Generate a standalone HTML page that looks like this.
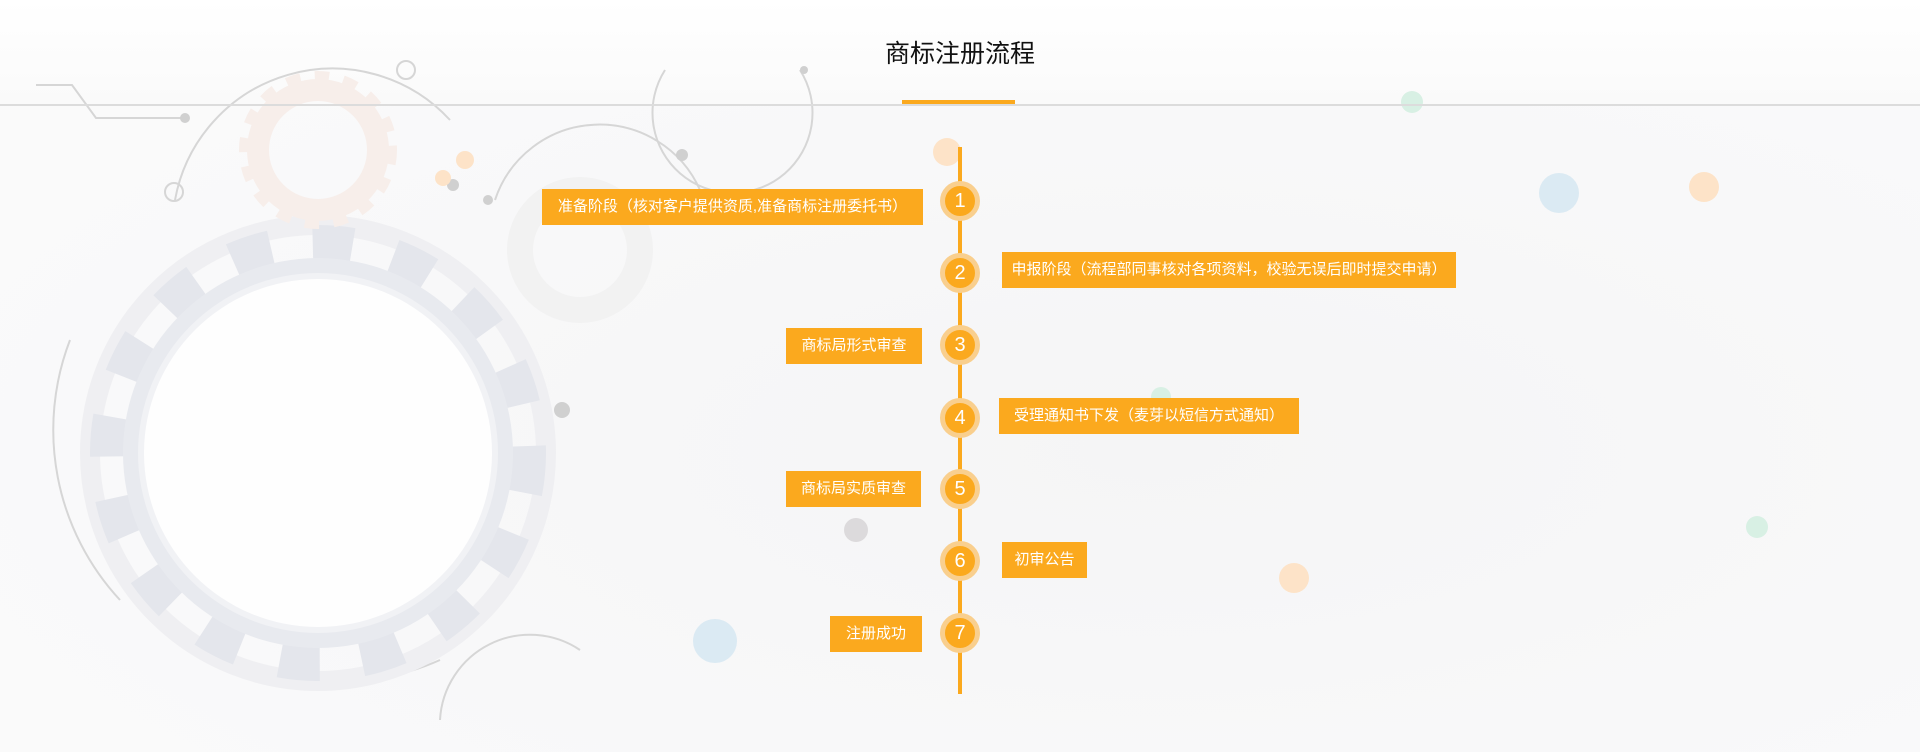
<!DOCTYPE html>
<html><head><meta charset="utf-8"><style>
html,body{margin:0;padding:0}
body{width:1920px;height:752px;position:relative;overflow:hidden;background:radial-gradient(ellipse at 60% 60%,#f5f5f6 0%,#f8f8f9 50%,#fbfbfb 100%);font-family:"Liberation Sans","Noto Sans CJK SC",sans-serif}
.top{position:absolute;left:0;top:0;width:1920px;height:105px;background:linear-gradient(#fff,#fafafa)}
.hl{position:absolute;left:0;top:104px;width:1920px;height:2px;background:#dcdcdc}
.ul{position:absolute;left:902px;top:100px;width:113px;height:4px;background:#fba91e}
.title{position:absolute;left:0;width:1920px;top:34px;text-align:center;font-size:25px;color:#111}
.vl{position:absolute;left:958px;top:147px;width:4px;height:547px;background:#fba91e}
.c{position:absolute;width:30px;height:30px;border-radius:50%;background:#fba91e;border:5px solid #f9cf8e;color:#fff;font-size:20px;line-height:30px;text-align:center;left:940px}
.b{position:absolute;background:#fba91e;color:#fff;font-size:15px;height:36px;line-height:36px;text-align:center;white-space:nowrap}
</style></head><body>
<div class="top"></div>
<svg style="position:absolute;left:0;top:0" width="1920" height="752">
 <g fill="none" stroke="#d6d6d6" stroke-width="2">
  <path d="M175 200 A160 160 0 0 1 450 120"/>
  <circle cx="174" cy="192" r="9"/><circle cx="406" cy="70" r="9"/>
  <path d="M36 85 L72 85 L96 118 L185 118"/>
  <path d="M495 200 A110 110 0 0 1 700 190"/>
  <path d="M665 70 A80 80 0 1 0 800 70"/>
  <path d="M70 340 A250 250 0 0 0 120 600" />
  <path d="M200 640 A250 250 0 0 0 440 660"/>
  <path d="M440 720 A90 90 0 0 1 580 650"/>
 </g>
 <g fill="#d0d0d0"><circle cx="185" cy="118" r="5"/><circle cx="453" cy="185" r="6"/><circle cx="488" cy="200" r="5"/><circle cx="682" cy="155" r="6"/><circle cx="125" cy="330" r="6"/><circle cx="562" cy="410" r="8"/><circle cx="804" cy="70" r="4"/></g>
 <circle cx="318" cy="453" r="228" fill="none" stroke="#efeff2" stroke-width="20"/>
 <circle cx="318" cy="453" r="210" fill="none" stroke="#e4e6ec" stroke-width="36" stroke-dasharray="40 42"/>
 <circle cx="318" cy="453" r="195" fill="#e8eaef"/>
 <circle cx="318" cy="453" r="180" fill="#f1f2f5"/>
 <circle cx="318" cy="453" r="174" fill="#fefefe"/>
 <circle cx="318" cy="150" r="60" fill="none" stroke="#f7eeea" stroke-width="22"/>
 <circle cx="318" cy="150" r="72" fill="none" stroke="#f7eeea" stroke-width="14" stroke-dasharray="14 14"/>
 <circle cx="580" cy="250" r="60" fill="none" stroke="#f2f2f2" stroke-width="26"/>
 <g fill="#fde3c8"><circle cx="947" cy="152" r="14"/><circle cx="1704" cy="187" r="15"/><circle cx="1294" cy="578" r="15"/><circle cx="465" cy="160" r="9"/><circle cx="443" cy="178" r="8"/></g>
 <g fill="#dbeaf3"><circle cx="1559" cy="193" r="20"/><circle cx="715" cy="641" r="22"/></g>
 <g fill="#d8f0e4"><circle cx="1412" cy="102" r="11"/><circle cx="1757" cy="527" r="11"/><circle cx="1161" cy="397" r="10"/></g>
 <circle cx="856" cy="530" r="12" fill="#dcdadc"/>
</svg>
<div class="hl"></div>
<div class="ul"></div>
<div class="title">商标注册流程</div>
<div class="vl"></div>
<div class="c" style="top:181px">1</div>
<div class="c" style="top:253px">2</div>
<div class="c" style="top:325px">3</div>
<div class="c" style="top:398px">4</div>
<div class="c" style="top:469px">5</div>
<div class="c" style="top:541px">6</div>
<div class="c" style="top:613px">7</div>
<div class="b" style="left:542px;top:189px;width:381px">准备阶段（核对客户提供资质,准备商标注册委托书）</div>
<div class="b" style="left:1002px;top:252px;width:454px">申报阶段（流程部同事核对各项资料，校验无误后即时提交申请）</div>
<div class="b" style="left:786px;top:328px;width:136px">商标局形式审查</div>
<div class="b" style="left:999px;top:398px;width:300px">受理通知书下发（麦芽以短信方式通知）</div>
<div class="b" style="left:786px;top:471px;width:135px">商标局实质审查</div>
<div class="b" style="left:1002px;top:542px;width:85px">初审公告</div>
<div class="b" style="left:830px;top:616px;width:92px">注册成功</div>
</body></html>
